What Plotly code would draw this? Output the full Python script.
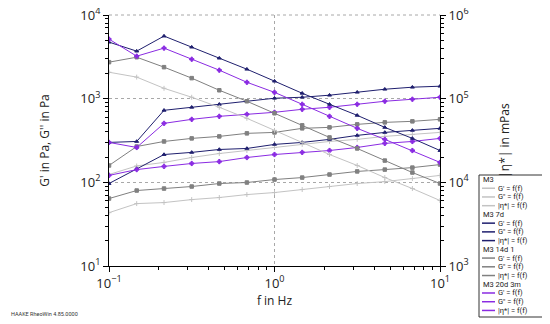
import plotly.graph_objects as go

# frequencies in Hz
freq = [0.1, 0.147, 0.215, 0.316, 0.464, 0.681, 1.0, 1.47, 2.15, 3.16, 4.64, 6.81, 10.0]

sample_names = ["M3", "M3 7d", "M3 14d 1", "M3 20d 3m"]
sample_colors = ["#c3c3c3", "#1f1f6e", "#808080", "#8a2be2"]
sample_symbols = ["cross-thin", "triangle-up", "square", "cross"]

# G' in Pa
g1_m3 = [124, 157, 173, 198, 221, 240, 261, 284, 308, 326, 354, 374, 395]
g1_m3_7d = [300, 308, 726, 789, 857, 931, 1012, 1040, 1100, 1194, 1297, 1371, 1409]
g1_m3_14d = [159, 268, 308, 335, 354, 385, 395, 442, 454, 493, 521, 536, 566]
g1_m3_20d = [300, 261, 507, 566, 615, 650, 687, 746, 789, 857, 931, 984, 1040]

# G'' in Pa
g2_m3 = [43.4, 55.7, 57.3, 62.2, 65.8, 71.4, 75.5, 82.0, 89.1, 96.8, 102, 111, 121]
g2_m3_7d = [96.8, 146, 215, 228, 247, 254, 284, 300, 326, 364, 395, 418, 442]
g2_m3_14d = [64.0, 79.8, 84.3, 89.1, 96.8, 99.5, 108, 114, 124, 135, 142, 150, 163]
g2_m3_20d = [121, 142, 155, 168, 177, 198, 215, 228, 240, 261, 292, 308, 335]

# |eta*| in mPas
eta_m3 = [207000, 181000, 133000, 104000, 78900, 58200, 41800, 30000, 21500, 15900, 11400, 8430, 6060]
eta_m3_7d = [474000, 370000, 560000, 413000, 305000, 225000, 162000, 116000, 85700, 63200, 45400, 33500, 24000]
eta_m3_14d = [273000, 313000, 238000, 176000, 126000, 93100, 66900, 48000, 34400, 25400, 18200, 13100, 9680]
eta_m3_20d = [515000, 322000, 402000, 296000, 219000, 157000, 119000, 85700, 61500, 44200, 32600, 24000, 17300]

g1_all = [g1_m3, g1_m3_7d, g1_m3_14d, g1_m3_20d]
g2_all = [g2_m3, g2_m3_7d, g2_m3_14d, g2_m3_20d]
eta_all = [eta_m3, eta_m3_7d, eta_m3_14d, eta_m3_20d]
entry_labels = ["G' = f(f)", "G'' = f(f)", "|η*| = f(f)"]

x_ticktext = ["10<sup>−1</sup>", "10<sup>0</sup>", "10<sup>1</sup>"]
y_ticktext = ["10<sup>1</sup>", "10<sup>2</sup>", "10<sup>3</sup>", "10<sup>4</sup>"]
y2_ticktext = ["10<sup>3</sup>", "10<sup>4</sup>", "10<sup>5</sup>", "10<sup>6</sup>"]

# page has an 8px body margin, so the figure is made smaller and offsets are in page pixels
OFF = 8
W, H = 550 - OFF, 324 - OFF
L, R, T, B = 109, 440, 15, 266   # plot area in page pixels


def px(x):
    return (x - L) / (R - L)


def py(y):
    return (B - y) / (B - T)


fig = go.Figure()
for i, name in enumerate(sample_names):
    col = sample_colors[i]
    mk = dict(symbol=sample_symbols[i], size=3.5, color=col, line=dict(color=col, width=1))
    fig.add_trace(go.Scatter(x=freq, y=g1_all[i], mode="lines+markers", name=name + " G'",
                             line=dict(color=col, width=1), marker=mk))
    fig.add_trace(go.Scatter(x=freq, y=g2_all[i], mode="lines+markers", name=name + " G''",
                             line=dict(color=col, width=1), marker=mk))
    fig.add_trace(go.Scatter(x=freq, y=eta_all[i], mode="lines+markers", name=name + " |η*|",
                             line=dict(color=col, width=1), marker=mk, yaxis="y2"))

minor_x = [m * 10 ** e for e in (-1, 0) for m in range(2, 10)]
minor_y = [m * 10 ** e for e in (1, 2, 3) for m in range(2, 10)]
minor_y2 = [m * 10 ** e for e in (3, 4, 5) for m in range(2, 10)]

axis_common = dict(showline=True, linecolor="black", linewidth=1, ticks="outside", ticklen=5,
                   tickcolor="black", gridcolor="#a8a8a8", griddash="dot",
                   gridwidth=1, zeroline=False, automargin=False, ticklabeloverflow="allow",
                   tickfont=dict(size=13, color="#222"),
                   title_font=dict(size=12, color="#222"))

fig.update_layout(
    width=W, height=H,
    margin=dict(l=L - OFF, r=W + OFF - R, t=T - OFF, b=H + OFF - B, pad=0, autoexpand=False),
    paper_bgcolor="white", plot_bgcolor="white",
    font=dict(family="Open Sans", color="#222"),
    showlegend=False,
    xaxis=dict(type="log", range=[-1, 1], tickmode="array", tickvals=[0.1, 1, 10],
               ticktext=x_ticktext,
               minor=dict(tickmode="array", tickvals=minor_x, ticks="outside", ticklen=3,
                          tickcolor="black", showgrid=False),
               showgrid=True, title=dict(text="f in Hz", standoff=2), **axis_common),
    yaxis=dict(type="log", range=[1, 4], tickmode="array", tickvals=[10, 100, 1000, 10000],
               ticktext=y_ticktext,
               minor=dict(tickmode="array", tickvals=minor_y, ticks="outside", ticklen=3,
                          tickcolor="black", showgrid=False),
               showgrid=True, title=dict(text="G' in Pa, G'' in Pa", standoff=28), **axis_common),
    yaxis2=dict(type="log", range=[3, 6], overlaying="y", side="right", tickmode="array",
                tickvals=[1e3, 1e4, 1e5, 1e6],
                ticktext=y2_ticktext,
                minor=dict(tickmode="array", tickvals=minor_y2, ticks="outside", ticklen=3,
                           tickcolor="black", showgrid=False),
                showgrid=False, title=dict(text="|η*| in mPas", standoff=32), **axis_common),
)

# dotted line along the top edge at 10^4
shapes = [dict(type="line", xref="paper", yref="paper", x0=0, x1=1, y0=1, y1=1,
               line=dict(color="#a8a8a8", width=1, dash="dot"))]

# legend box drawn by hand (compact like the RheoWin export)
shapes.append(dict(type="rect", xref="paper", yref="paper", x0=px(479), x1=px(547), y0=py(317), y1=py(175),
                   line=dict(color="#333", width=1), fillcolor="white"))
annotations = []
row_y = 179.5
step = 8.73
for i, name in enumerate(sample_names):
    annotations.append(dict(x=px(481), y=py(row_y), xref="paper", yref="paper", text=name,
                            showarrow=False, xanchor="left", yanchor="middle",
                            font=dict(family="Roboto", size=7.5, color="#222")))
    row_y += step
    for lab in entry_labels:
        shapes.append(dict(type="line", xref="paper", yref="paper", x0=px(482), x1=px(495),
                           y0=py(row_y), y1=py(row_y), line=dict(color=sample_colors[i], width=1.5)))
        annotations.append(dict(x=px(496), y=py(row_y), xref="paper", yref="paper", text=lab,
                                showarrow=False, xanchor="left", yanchor="middle",
                                font=dict(family="Roboto", size=7.5, color="#222")))
        row_y += step

annotations.append(dict(x=px(9), y=py(314), xref="paper", yref="paper", text="HAAKE RheoWin 4.85.0000",
                        showarrow=False, xanchor="left", yanchor="middle",
                        font=dict(family="Roboto", size=5.5, color="#333")))

fig.update_layout(shapes=shapes, annotations=annotations)

fig.write_html("out.html")
